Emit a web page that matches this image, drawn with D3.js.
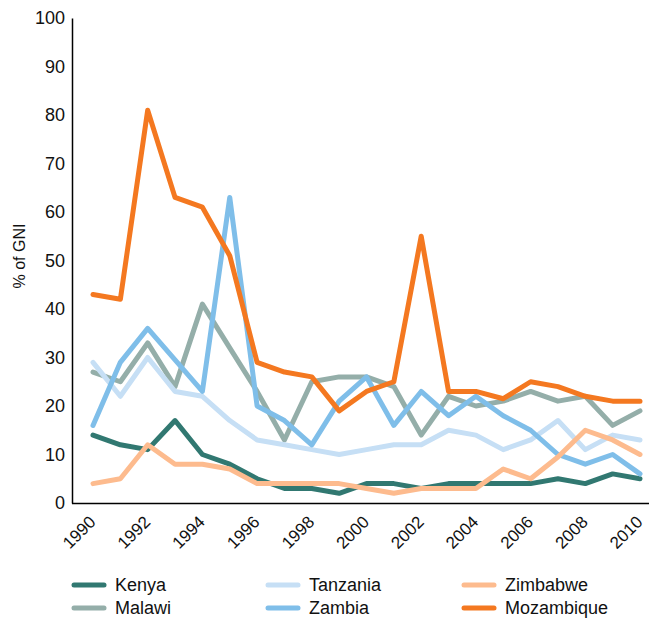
<!DOCTYPE html>
<html>
<head>
<meta charset="utf-8">
<script src="https://cdnjs.cloudflare.com/ajax/libs/d3/7.8.5/d3.min.js"></script>
<style>
  body { margin: 0; background: #fff; }
  svg { font-family: "Liberation Sans", Arial, Helvetica, sans-serif; }
</style>
</head>
<body>
<div id="chart"></div>
<script>
// years and the series (% of GNI)
var years = d3.range(1990, 2011);
var kenya      = [14, 12, 11, 17, 10, 8, 5, 3, 3, 2, 4, 4, 3, 4, 4, 4, 4, 5, 4, 6, 5];
var malawi     = [27, 25, 33, 24, 41, 32, 23, 13, 25, 26, 26, 24, 14, 22, 20, 21, 23, 21, 22, 16, 19];
var tanzania   = [29, 22, 30, 23, 22, 17, 13, 12, 11, 10, 11, 12, 12, 15, 14, 11, 13, 17, 11, 14, 13];
var zambia     = [16, 29, 36, 29.5, 23, 63, 20, 17, 12, 21, 26, 16, 23, 18, 22, 18, 15, 10, 8, 10, 6];
var zimbabwe   = [4, 5, 12, 8, 8, 7, 4, 4, 4, 4, 3, 2, 3, 3, 3, 7, 5, 9.5, 15, 13, 10];
var mozambique = [43, 42, 81, 63, 61, 51, 29, 27, 26, 19, 23, 25, 55, 23, 23, 21.5, 25, 24, 22, 21, 21];
var yTicks = d3.range(0, 101, 10);
var xTicks = d3.range(1990, 2011, 2);

var series = [
  {name: "Kenya", values: kenya, color: "#317871"},
  {name: "Malawi", values: malawi, color: "#94aea9"},
  {name: "Tanzania", values: tanzania, color: "#c6dff5"},
  {name: "Zambia", values: zambia, color: "#7fbee9"},
  {name: "Zimbabwe", values: zimbabwe, color: "#fdbb8e"},
  {name: "Mozambique", values: mozambique, color: "#f47820"}
];

var W = 649, H = 623;
var svg = d3.select("#chart").append("svg").attr("width", W).attr("height", H);

var x = d3.scaleLinear().domain([1990, 2010]).range([93, 640]);
var y = d3.scaleLinear().domain([0, 100]).range([503, 18]);

// y axis
var yAxis = svg.append("g")
  .attr("transform", "translate(72,0)")
  .call(d3.axisLeft(y).tickValues(yTicks).tickSize(0).tickPadding(7));
yAxis.select(".domain").attr("stroke", "#000").attr("stroke-width", 1.5);
yAxis.selectAll("text").attr("font-size", 18).attr("fill", "#111")
  .attr("font-family", "Liberation Sans, Arial, sans-serif");

// x axis
svg.append("line")
  .attr("x1", 72).attr("x2", 650).attr("y1", 503.5).attr("y2", 503.5)
  .attr("stroke", "#000").attr("stroke-width", 1.5);
var xAxis = svg.append("g")
  .attr("transform", "translate(0,503)")
  .call(d3.axisBottom(x).tickValues(xTicks).tickFormat(d3.format("d")).tickSize(0));
xAxis.select(".domain").remove();
xAxis.selectAll("text")
  .attr("font-size", 17).attr("fill", "#111")
  .attr("font-family", "Liberation Sans, Arial, sans-serif")
  .attr("text-anchor", "end")
  .attr("dy", 0)
  .attr("transform", "translate(1,18) rotate(-45)");

// axis title
svg.append("text")
  .attr("transform", "translate(25,256) rotate(-90)")
  .attr("text-anchor", "middle")
  .attr("font-size", 16).attr("fill", "#111")
  .text("% of GNI");

// lines
var line = d3.line()
  .x(function(d, i) { return x(years[i]); })
  .y(function(d) { return y(d); });

svg.append("g").selectAll("path")
  .data(series)
  .join("path")
  .attr("d", function(s) { return line(s.values); })
  .attr("fill", "none")
  .attr("stroke", function(s) { return s.color; })
  .attr("stroke-width", 5)
  .attr("stroke-linejoin", "round")
  .attr("stroke-linecap", "round");

// legend, 3 columns x 2 rows
var legendOrder = ["Kenya", "Tanzania", "Zimbabwe", "Malawi", "Zambia", "Mozambique"];
var colX = [72, 266, 462];
var rowY = [585, 608];
legendOrder.forEach(function(n, i) {
  var s = series.find(function(d) { return d.name == n; });
  var cx = colX[i % 3], cy = rowY[Math.floor(i / 3)];
  var g = svg.append("g").attr("transform", "translate(" + cx + "," + cy + ")");
  g.append("line").attr("x1", 2).attr("x2", 32).attr("y1", 0).attr("y2", 0)
    .attr("stroke", s.color).attr("stroke-width", 5).attr("stroke-linecap", "round");
  g.append("text").attr("x", 43).attr("y", 0).attr("dy", "0.35em")
    .attr("font-size", 18).attr("fill", "#111").text(s.name);
});
</script>
</body>
</html>
